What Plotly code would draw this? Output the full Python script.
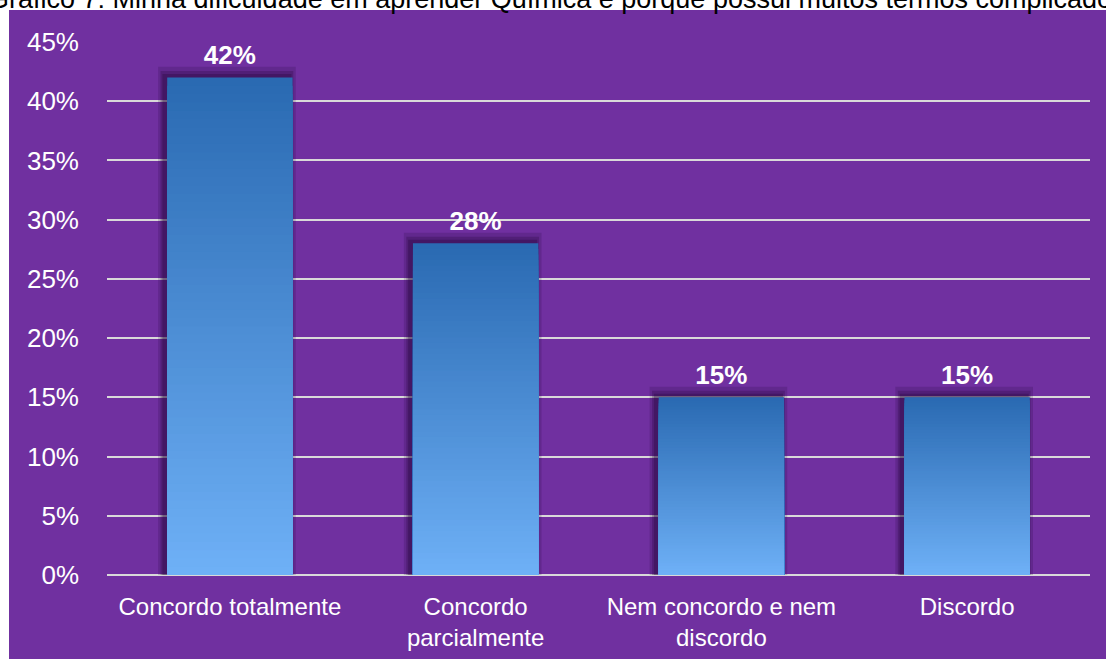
import plotly.graph_objects as go

# ---- data ----
categories = ["Concordo totalmente", "Concordo parcialmente", "Nem concordo e nem discordo", "Discordo"]
tick_labels = ["Concordo totalmente", "Concordo<br>parcialmente", "Nem concordo e nem<br>discordo", "Discordo"]
values = [42, 28, 15, 15]
y_ticks = [0, 5, 10, 15, 20, 25, 30, 35, 40, 45]
y_tick_labels = ["0%", "5%", "10%", "15%", "20%", "25%", "30%", "35%", "40%", "45%"]
title_text = "Gráfico 7: Minha dificuldade em aprender Química é porque possui muitos termos complicados"

# ---- style ----
W, H = 1106, 659
ML, MR, MT, MB = 107, 16, 42, 84
PW, PH = W - ML - MR, H - MT - MB
PURPLE = "#7030A0"
TOP = (42, 106, 178)
BOT = (110, 176, 246)
BAR_W = 0.51
FONT = "Arial, Liberation Sans, sans-serif"

def px2x(px):
    return (px - ML) / PW

def px2y(py):
    return (H - MB - py) / PH

xs = list(range(len(values)))
fig = go.Figure()

# soft shadow behind bars
for k, (dw, dy, op) in enumerate([(0.05, 0.9, 0.18), (0.03, 0.55, 0.25), (0.015, 0.3, 0.3)]):
    fig.add_trace(go.Bar(
        x=xs, y=[v + dy for v in values], width=BAR_W + dw,
        offset=-(BAR_W + dw) / 2 - 0.012,
        marker=dict(color=f"rgba(35,5,55,{op})", line=dict(width=0)),
        hoverinfo="skip", showlegend=False))

# vertical gradient bars: stacked overlays from dark (top) to light (bottom)
N = 60
for k in range(N):
    t = k / (N - 1)
    c = tuple(round(TOP[i] + (BOT[i] - TOP[i]) * t) for i in range(3))
    frac = 1 - k / N
    fig.add_trace(go.Bar(
        x=xs, y=[v * frac for v in values], width=BAR_W,
        marker=dict(color=f"rgb{c}", line=dict(width=0)),
        hoverinfo="skip", showlegend=False))

# value labels (carried by an invisible bar slightly taller than each bar)
fig.add_trace(go.Bar(
    x=xs, y=[v + 0.35 for v in values], width=BAR_W,
    marker=dict(color="rgba(0,0,0,0)", line=dict(width=0)),
    text=[f"{v}%" for v in values], textposition="outside",
    textfont=dict(family=FONT, size=26, color="white", weight="bold"),
    cliponaxis=False, hoverinfo="skip", showlegend=False))

fig.update_layout(
    width=W, height=H,
    margin=dict(l=ML, r=MR, t=MT, b=MB, pad=0, autoexpand=False),
    paper_bgcolor="white",
    plot_bgcolor=PURPLE,
    barmode="overlay",
    font=dict(family=FONT, color="white", size=24),
    xaxis=dict(
        range=[-0.5, len(values) - 0.5],
        tickvals=xs, ticktext=tick_labels,
        showgrid=False, zeroline=False, showline=False,
        ticks="", tickfont=dict(size=24, color="white"),
        ticklabelstandoff=15, automargin=False,
    ),
    yaxis=dict(
        range=[0, 45], tickvals=y_ticks, ticktext=y_tick_labels,
        showgrid=True, gridcolor="#D9D9D9", gridwidth=1.5,
        zeroline=True, zerolinecolor="#D9D9D9", zerolinewidth=2,
        showline=False, ticks="",
        tickfont=dict(size=26, color="white"),
        ticklabelstandoff=27, automargin=False,
    ),
    shapes=[dict(
        type="rect", xref="paper", yref="paper", layer="below",
        x0=px2x(9), x1=px2x(W + 20), y0=px2y(H + 20), y1=px2y(10),
        fillcolor=PURPLE, line=dict(width=0))],
    annotations=[dict(
        text=title_text, xref="paper", yref="paper",
        x=px2x(557), y=px2y(-1.5), xanchor="center", yanchor="middle",
        showarrow=False, font=dict(family=FONT, size=27, color="black"))],
)

fig.write_html("out.html", config={"displayModeBar": False},
               post_script="document.body.style.margin='0px';")
